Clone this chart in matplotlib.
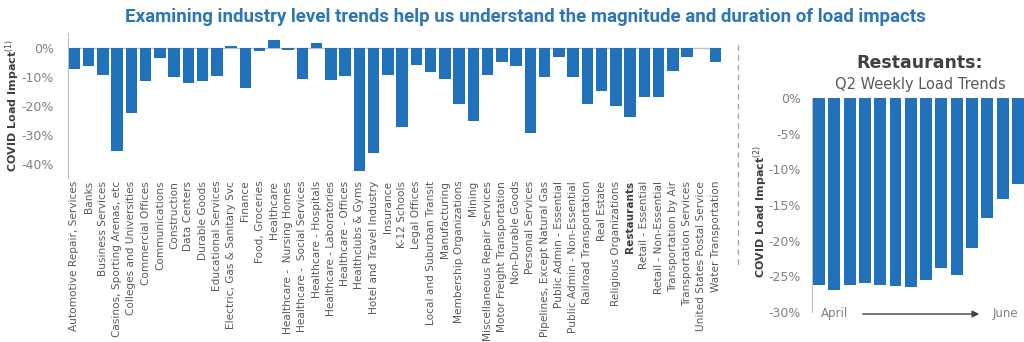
import matplotlib
matplotlib.use("Agg")
import numpy as np
from matplotlib import pyplot as plt
from matplotlib.lines import Line2D
from matplotlib.patches import FancyArrowPatch

# === DATA ===
industries = [
    "Automotive Repair, Services", "Banks", "Business Services",
    "Casinos, Sporting Arenas, etc", "Colleges and Universities",
    "Commercial Offices", "Communications", "Construction", "Data Centers",
    "Durable Goods", "Educational Services", "Electric, Gas & Sanitary Svc",
    "Finance", "Food, Groceries", "Healthcare", "Healthcare -  Nursing Homes",
    "Healthcare -  Social Services", "Healthcare - Hospitals",
    "Healthcare - Laboratories", "Healthcare - Offices", "Healthclubs & Gyms",
    "Hotel and Travel Industry", "Insurance", "K-12 Schools", "Legal Offices",
    "Local and Suburban Transit", "Manufacturing", "Membership Organizations",
    "Mining", "Miscellaneous Repair Services", "Motor Freight Transportation",
    "Non-Durable Goods", "Personal Services", "Pipelines, Except Natural Gas",
    "Public Admin - Essential", "Public Admin - Non-Essential",
    "Railroad Transportation", "Real Estate", "Religious Organizations",
    "Restaurants", "Retail - Essential", "Retail - Non-Essential",
    "Transportation by Air", "Transportation Services",
    "United States Postal Service", "Water Transportation",
]
industry_impact = [
    -7.2, -6.0, -9.2, -35.4, -22.3, -11.4, -3.2, -9.7, -12.1, -11.3,
    -9.5, 0.8, -13.6, -0.9, 2.9, -0.6, -10.5, 1.8, -11.0, -9.5,
    -42.3, -36.2, -9.1, -27.1, -5.6, -8.2, -10.5, -19.2, -24.9, -9.3,
    -4.8, -6.0, -29.3, -9.7, -2.9, -10.0, -19.1, -14.7, -19.9, -23.8,
    -16.6, -16.8, -7.9, -3.1, 0.0, -4.6,
]
highlight = "Restaurants"

restaurant_weekly = [
    -26.3, -27.0, -26.3, -26.0, -26.3, -26.4, -26.5,
    -25.5, -23.8, -24.8, -21.1, -16.8, -14.1, -12.0,
]

# === STYLE ===
BAR_COLOR = "#2271BB"
TITLE_COLOR = "#2E75B6"
TICK_COLOR = "#808080"
LABEL_COLOR = "#595959"
SPINE_COLOR = "#BFBFBF"

fig = plt.figure(figsize=(10.24, 3.42), dpi=100)
W, H = 1024, 342


def px_axes(x0, y0, x1, y1):
    # pixel box (top-left origin) -> figure axes
    return fig.add_axes([x0 / W, 1 - y1 / H, (x1 - x0) / W, (y1 - y0) / H])


fig.text(525 / W, 1 - 17 / H,
         "Examining industry level trends help us understand the magnitude and duration of load impacts",
         ha="center", va="center", fontsize=13.5, fontweight="bold", color=TITLE_COLOR,
         family=["Roboto", "DejaVu Sans"])

# === LEFT: industry level impacts ===
ax = px_axes(68, 33, 722, 178)
x = np.arange(len(industries))
ax.bar(x, industry_impact, width=0.8, color=BAR_COLOR, zorder=3)
ax.axhline(0, color=SPINE_COLOR, linewidth=0.9, zorder=2)
ax.set_xlim(-0.45, len(industries) - 0.55)
ax.set_ylim(-44.7, 5.3)
ax.set_yticks([0, -10, -20, -30, -40])
ax.set_yticklabels(["0%", "-10%", "-20%", "-30%", "-40%"])
ax.tick_params(axis="y", length=0, pad=10, labelsize=9, labelcolor=TICK_COLOR)
ax.set_xticks(x)
ax.set_xticklabels(industries, rotation=90, ha="center", va="top")
ax.tick_params(axis="x", length=0, pad=2, labelsize=7.6, labelcolor=LABEL_COLOR)
for lbl in ax.get_xticklabels():
    if lbl.get_text() == highlight:
        lbl.set_fontweight("bold")
        lbl.set_color("#404040")
for side in ["top", "right", "bottom"]:
    ax.spines[side].set_visible(False)
ax.spines["left"].set_color(SPINE_COLOR)
ax.set_ylabel(r"COVID Load Impact$^{(1)}$", fontsize=8, fontweight="bold",
              color="#404040")
ax.yaxis.set_label_coords(-0.07, 0.5)

# dashed separator
fig.add_artist(Line2D([738 / W, 738 / W], [1 - 45 / H, 1 - 265 / H],
                      color="#A6A6A6", linestyle=(0, (4, 3)), linewidth=1.0))

# === RIGHT: restaurants weekly trend ===
ax2 = px_axes(812, 98.3, 1024, 311.7)
wk = np.arange(len(restaurant_weekly))
ax2.bar(wk, restaurant_weekly, width=0.78, color=BAR_COLOR, zorder=3)
ax2.set_xlim(-0.45, len(restaurant_weekly) - 1 + 0.39)
ax2.set_ylim(-30, 0)
ax2.set_yticks([0, -5, -10, -15, -20, -25, -30])
ax2.set_yticklabels(["0%", "-5%", "-10%", "-15%", "-20%", "-25%", "-30%"])
ax2.tick_params(axis="y", length=0, pad=8, labelsize=9, labelcolor=TICK_COLOR)
ax2.set_xticks([])
for side in ["top", "right", "bottom"]:
    ax2.spines[side].set_visible(False)
ax2.spines["left"].set_color(SPINE_COLOR)
ax2.set_ylabel(r"COVID Load Impact$^{(2)}$", fontsize=8, fontweight="bold",
               color="#404040")
ax2.yaxis.set_label_coords(-0.2, 0.47)

# April -> June annotation
fig.text(835 / W, 1 - 314 / H, "April", ha="center", va="center",
         fontsize=8.5, color=TICK_COLOR)
fig.text(1005 / W, 1 - 314 / H, "June", ha="center", va="center",
         fontsize=8.5, color=TICK_COLOR)
fig.add_artist(FancyArrowPatch(
    (860 / W, 1 - 314 / H), (982 / W, 1 - 314 / H), transform=fig.transFigure,
    arrowstyle="-|>", mutation_scale=10, color="#404040", linewidth=1.0))

fig.text(920 / W, 1 - 63 / H, "Restaurants:", ha="center", va="center",
         fontsize=12.5, fontweight="bold", color="#404040")
fig.text(920 / W, 1 - 84 / H, "Q2 Weekly Load Trends", ha="center", va="center",
         fontsize=10.5, color="#595959")

fig.savefig("out.png", dpi=100)
